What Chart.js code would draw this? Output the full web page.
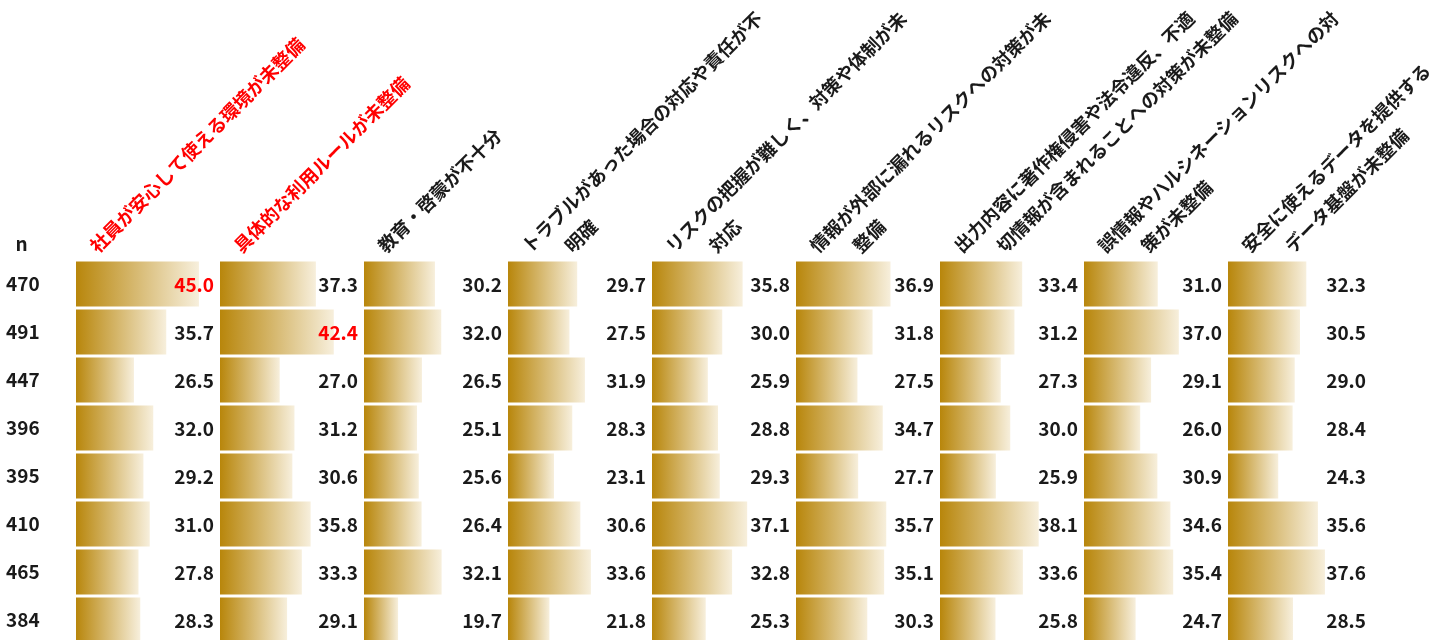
<!DOCTYPE html>
<html lang="ja">
<head>
<meta charset="utf-8">
<title>生成AI活用の課題</title>
<script src="https://cdn.jsdelivr.net/npm/chart.js@4.4.1/dist/chart.umd.min.js"></script>
<style>
  html, body { margin: 0; padding: 0; background: #ffffff; overflow: hidden; }
  #chart { display: block; }
</style>
</head>
<body>
<canvas id="chart" width="1443" height="644"></canvas>
<script>
// Sample size of each row
const sampleSizes = ['470', '491', '447', '396', '395', '410', '465', '384'];

// One array per issue (column), one value per row, in %
const safeEnvironment  = [45.0, 35.7, 26.5, 32.0, 29.2, 31.0, 27.8, 28.3];
const usageRules       = [37.3, 42.4, 27.0, 31.2, 30.6, 35.8, 33.3, 29.1];
const education        = [30.2, 32.0, 26.5, 25.1, 25.6, 26.4, 32.1, 19.7];
const accountability   = [29.7, 27.5, 31.9, 28.3, 23.1, 30.6, 33.6, 21.8];
const riskControl      = [35.8, 30.0, 25.9, 28.8, 29.3, 37.1, 32.8, 25.3];
const leakage          = [36.9, 31.8, 27.5, 34.7, 27.7, 35.7, 35.1, 30.3];
const outputCompliance = [33.4, 31.2, 27.3, 30.0, 25.9, 38.1, 33.6, 25.8];
const hallucination    = [31.0, 37.0, 29.1, 26.0, 30.9, 34.6, 35.4, 24.7];
const dataPlatform     = [32.3, 30.5, 29.0, 28.4, 24.3, 35.6, 37.6, 28.5];

// Column headings (each entry may wrap onto a second line)
const headerLines = [
  ['社員が安心して使える環境が未整備'],
  ['具体的な利用ルールが未整備'],
  ['教育・啓蒙が不十分'],
  ['トラブルがあった場合の対応や責任が不', '明確'],
  ['リスクの把握が難しく、対策や体制が未', '対応'],
  ['情報が外部に漏れるリスクへの対策が未', '整備'],
  ['出力内容に著作権侵害や法令違反、不適', '切情報が含まれることへの対策が未整備'],
  ['誤情報やハルシネーションリスクへの対', '策が未整備'],
  ['安全に使えるデータを提供する', 'データ基盤が未整備'],
];

// Values at or above this level are shown in red
const highlightThreshold = 40;

const columns = [safeEnvironment, usageRules, education, accountability, riskControl,
                 leakage, outputCompliance, hallucination, dataPlatform];

const FONT = "'Noto Sans CJK JP', 'Noto Sans', sans-serif";
const TEXT = '#1a1a1a';
const RED = '#ff0000';
const GOLD = '#b8860b';
const CREAM = '#f7efdc';

Chart.defaults.font.family = FONT;

function barGradient(ctx) {
  const chart = ctx.chart;
  const ds = chart.data.datasets[ctx.datasetIndex];
  const scale = chart.scales[ds.xAxisID];
  if (!scale || !chart.chartArea || ctx.raw == null) return GOLD;
  const x0 = scale.getPixelForValue(scale.min);
  const x1 = scale.getPixelForValue(ctx.raw);
  if (!isFinite(x0) || !isFinite(x1) || x1 <= x0) return GOLD;
  const g = chart.ctx.createLinearGradient(x0, 0, x1, 0);
  g.addColorStop(0, GOLD);
  g.addColorStop(1, CREAM);
  return g;
}

const scales = {
  y: {
    type: 'category',
    position: 'left',
    grid: { display: false, drawTicks: false },
    border: { display: false },
    ticks: {
      crossAlign: 'far',
      padding: 0,
      color: TEXT,
      font: { family: FONT, size: 19, weight: 'bold' },
    },
    afterFit(scale) {
      scale.width = 70;
      // rows fill the plot area edge to edge
      scale.paddingTop = 0;
      scale.paddingBottom = 0;
    },
  },
};

// Each column gets its own value axis; the axes share one stack so they sit side by side
const datasets = columns.map((values, i) => {
  const id = 'x' + i;
  scales[id] = {
    type: 'linear',
    position: 'bottom',
    stack: 'issues',
    stackWeight: 1,
    display: false,
    min: 10,
    max: 51,
    grid: { display: false },
  };
  return {
    label: headerLines[i].join(''),
    data: values,
    xAxisID: id,
    yAxisID: 'y',
    grouped: false,
    barPercentage: 0.94,
    categoryPercentage: 1.0,
    borderWidth: 0,
    backgroundColor: barGradient,
  };
});

// Draws the rotated column headings, the "n" heading and the value labels
const tableText = {
  id: 'tableText',
  afterDatasetsDraw(chart) {
    const ctx = chart.ctx;
    const area = chart.chartArea;
    ctx.save();

    // value labels, right-aligned inside each column
    ctx.font = 'bold 19px ' + FONT;
    ctx.textAlign = 'right';
    ctx.textBaseline = 'middle';
    chart.data.datasets.forEach((ds, di) => {
      const meta = chart.getDatasetMeta(di);
      const scale = chart.scales[ds.xAxisID];
      meta.data.forEach((bar, j) => {
        const v = ds.data[j];
        ctx.fillStyle = v >= highlightThreshold ? RED : TEXT;
        ctx.fillText(v.toFixed(1), scale.right - 6, bar.y + 1);
      });
    });

    // "n" heading above the sample sizes
    ctx.fillStyle = TEXT;
    ctx.textAlign = 'center';
    ctx.textBaseline = 'alphabetic';
    ctx.fillText('n', 21.5, area.top - 9);

    // rotated headings
    ctx.font = 'bold 18.4px ' + FONT;
    ctx.textAlign = 'left';
    chart.data.datasets.forEach((ds, di) => {
      const scale = chart.scales[ds.xAxisID];
      const hot = ds.data.some(v => v >= highlightThreshold);
      ctx.fillStyle = hot ? RED : TEXT;
      headerLines[di].forEach((line, li) => {
        ctx.save();
        ctx.translate(scale.left + 22 + li * 43, area.top - 6);
        ctx.rotate(-Math.PI / 4);
        ctx.fillText(line, 0, 0);
        ctx.restore();
      });
    });

    ctx.restore();
  },
};

new Chart(document.getElementById('chart'), {
  type: 'bar',
  data: { labels: sampleSizes, datasets },
  options: {
    indexAxis: 'y',
    responsive: false,
    animation: false,
    layout: { padding: { top: 260, left: 6, right: 71, bottom: 0 } },
    scales,
    plugins: {
      legend: { display: false },
      tooltip: { enabled: false },
    },
  },
  plugins: [tableText],
});
</script>
</body>
</html>
